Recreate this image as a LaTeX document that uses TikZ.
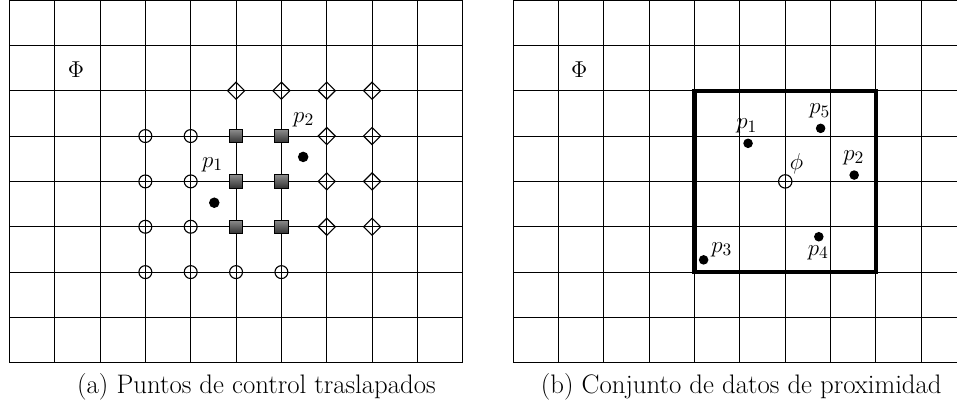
\documentclass[tikz,border=0pt]{standalone}
\usetikzlibrary{shapes.geometric}
\begin{document}
\begin{tikzpicture}[x=1cm,y=1cm,
  gridline/.style={line width=0.6pt, black},
  cpt/.style={circle, draw, line width=0.7pt, inner sep=0pt, minimum size=8.1pt},
  sqpt/.style={rectangle, draw, line width=0.5pt, inner sep=0pt, minimum size=8.2pt, top color=black!45, bottom color=black!80},
  dmpt/.style={diamond, draw, line width=0.7pt, inner sep=0pt, minimum size=11pt},
  dot/.style={circle, fill=black, inner sep=0pt, minimum size=6.6pt},
  sdot/.style={circle, fill=black, inner sep=0pt, minimum size=6pt},
  lbl/.style={inner sep=0pt, font=\fontsize{15.4}{18}\selectfont},
  captext/.style={inner sep=0pt, anchor=base, font=\fontsize{16.8}{20}\selectfont},
  bigbox/.style={line width=2.6pt, line join=miter}]
\useasboundingbox (-0.205,-0.953) rectangle (20.897,8);
\begin{scope}
\clip (-0.205,-0.953) rectangle (20.897,8);
% left grid
\draw[gridline] (0,0) grid (10,8);
\draw[gridline] (0,0) rectangle (10,8);
% right grid
\begin{scope}[shift={(11.11,0)}]
\draw[gridline] (0,0) grid (10,8);
\draw[gridline] (0,0) rectangle (10,8);
\end{scope}
\end{scope}

% ----- panel (a)
\node[lbl] (PhiA) at (1.47,6.46) {$\Phi$};
\foreach \x/\y [count=\i] in {3/5,4/5,3/4,4/4,3/3,4/3,3/2,4/2,5/2,6/2}
  \node[cpt] (c\i) at (\x,\y) {};
\foreach \x/\y [count=\i] in {5/5,6/5,5/4,6/4,5/3,6/3}
  \node[sqpt] (s\i) at (\x,\y) {};
\foreach \x/\y [count=\i] in {5/6,6/6,7/6,8/6,7/5,8/5,7/4,8/4,7/3,8/3}
  \node[dmpt] (d\i) at (\x,\y) {};
\node[dot] (ap1) at (4.52,3.53) {};
\node[lbl] (ap1l) at (4.48,4.37) {$p_1$};
\node[dot] (ap2) at (6.48,4.54) {};
\node[lbl] (ap2l) at (6.49,5.36) {$p_2$};
\node[captext] (capA) at (5.45,-0.666) {(a) Puntos de control traslapados};

% ----- panel (b)
\begin{scope}[shift={(11.11,0)}]
\node[lbl] (PhiB) at (1.46,6.46) {$\Phi$};
\draw[bigbox] (4,2) rectangle (8,6);
\node[cpt, minimum size=8.4pt] (phi) at (6,4) {};
\node[lbl] (phil) at (6.25,4.38) {$\phi$};
\node[sdot] (bp1) at (5.18,4.84) {};
\node[lbl] (bp1l) at (5.15,5.22) {$p_1$};
\node[sdot] (bp5) at (6.78,5.17) {};
\node[lbl] (bp5l) at (6.76,5.55) {$p_5$};
\node[sdot] (bp2) at (7.52,4.14) {};
\node[lbl] (bp2l) at (7.51,4.52) {$p_2$};
\node[sdot] (bp4) at (6.74,2.78) {};
\node[lbl] (bp4l) at (6.73,2.43) {$p_4$};
\node[sdot] (bp3) at (4.20,2.27) {};
\node[lbl] (bp3l) at (4.60,2.50) {$p_3$};
\node[captext] (capB) at (5.03,-0.666) {(b) Conjunto de datos de proximidad};
\end{scope}
\end{tikzpicture}
\end{document}
